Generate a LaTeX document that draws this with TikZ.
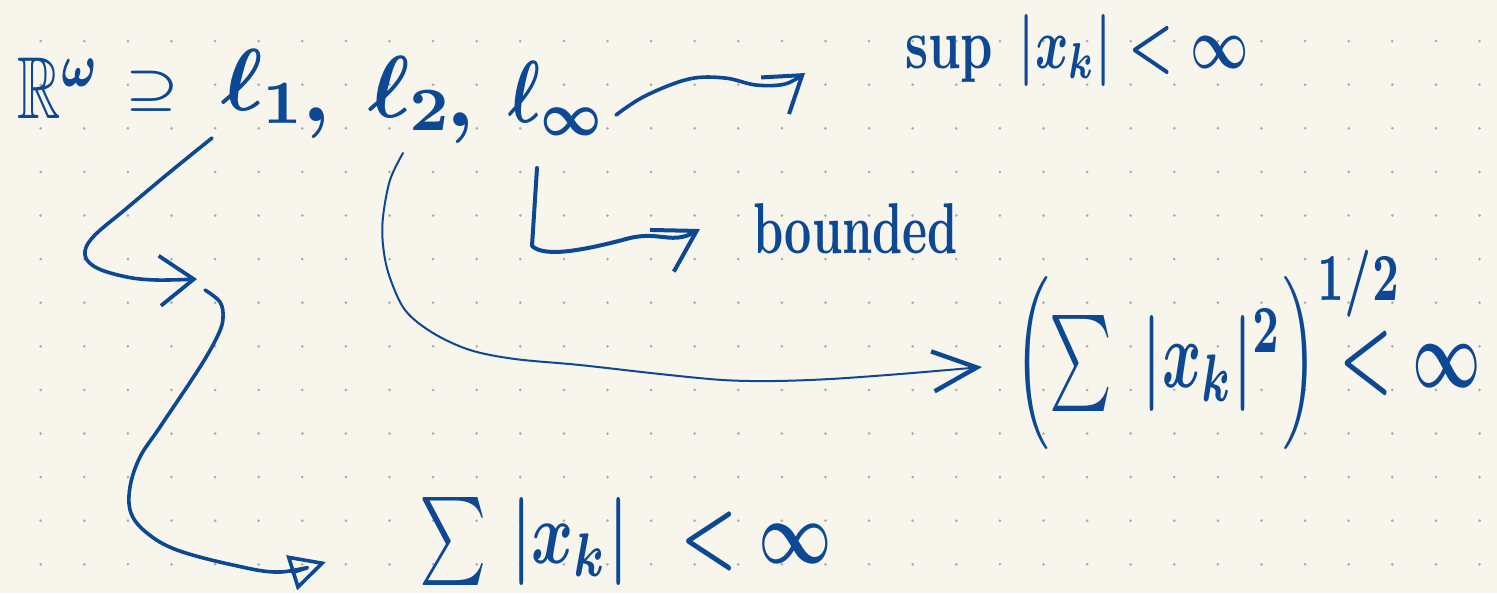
\documentclass[tikz,border=0pt]{standalone}
\usepackage{amssymb}
\usepackage{graphicx}
\usetikzlibrary{arrows.meta}
\definecolor{ink}{RGB}{12,72,148}
\definecolor{paper}{RGB}{248,246,236}
\definecolor{dotc}{RGB}{176,174,166}
\tikzset{
  hw/.style={text=ink, inner sep=0pt, outer sep=0pt},
  pen/.style={draw=ink, line width=0.9pt, line cap=round, line join=round},
  thinpen/.style={draw=ink, line width=0.5pt, line cap=round, line join=round},
}
\begin{document}
\begin{tikzpicture}[x=0.25pt, y=-0.25pt]
\fill[paper] (0,0) rectangle (1497,593);
\useasboundingbox (0,0) rectangle (1497,593);
\foreach \i in {0,...,33}{\foreach \j in {0,...,12}{\fill[dotc] (40.7+43.6*\i,41.1+43.6*\j) circle[radius=1.5];}}

% top row
\node[hw, anchor=base west] (R) at (18,118) {\scalebox{1.5}[2.2]{\boldmath$\mathbb{R}^{\omega}$}};
\node[hw] (sset) at (152,91) {\scalebox{1.5}[1.125]{\boldmath$\supseteq$}};
\node[hw, anchor=base west] (l1) at (221,110) {\scalebox{2.2}{\boldmath$\ell_1$}};
\node[hw, anchor=base west] (c1) at (302,121) {\scalebox{2.2}{\bfseries ,}};
\node[hw, anchor=base west] (l2) at (368,117) {\scalebox{2.2}{\boldmath$\ell_2$}};
\node[hw, anchor=base west] (c2) at (446,126) {\scalebox{2.2}{\bfseries ,}};
\node[hw, anchor=base west] (linf) at (508,122) {\scalebox{1.7}[2.2]{\boldmath$\ell_\infty$}};

% targets
\node[hw, anchor=base west] (supn) at (905,68) {\scalebox{1.27}[1.8]{\boldmath$\sup\;|x_k| < \infty$}};
\node[hw, anchor=base west] (bd) at (753,253) {\scalebox{1.185}[1.8]{\bfseries bounded}};
\node[hw, anchor=base west] (ltwo) at (1014,387) {\scalebox{1.49}[2.4]{\boldmath$\Bigl(\sum\;|x_k|^{2}\Bigr)^{\rlap{$\scriptstyle 1/2$}}< \infty$}};
\node[hw, anchor=base west] (lone) at (419,563) {\scalebox{1.6}[2.2]{\boldmath$\sum\,|x_k|\enspace<\infty$}};

% arrow end points
\coordinate (a1s) at (616,115);
\coordinate (a1e) at (805,73);
\coordinate (a2s) at (537,168);
\coordinate (a2c) at (532,246);
\coordinate (a2e) at (700,229);
\coordinate (a3s) at (403,153);
\coordinate (a3e) at (982,367);
\coordinate (a4s) at (212,138);
\coordinate (a4e) at (197,279);
\coordinate (a5s) at (205,290);
\coordinate (a5e) at (326,562);

% l_inf -> sup
\draw[pen, -{Straight Barb[length=8.5pt, width=11.5pt, line width=1pt]}]
  plot[smooth, tension=0.6] coordinates {(a1s) (645,96) (689,79) (725,78) (756,85) (785,84) (a1e)};
% l_inf -> bounded
\draw[pen, line width=1pt, -{Straight Barb[length=10pt, width=12pt, line width=1pt]}]
  (a2s) -- (a2c) .. controls (545,258) and (585,250) .. (630,238) .. controls (660,231) and (672,245) .. (a2e);
% l_2 -> sum squares
\draw[thinpen, -{Straight Barb[length=11pt, width=10pt, line width=1.1pt]}]
  plot[smooth, tension=0.55] coordinates {(a3s) (390,180) (383,217) (383,245) (389,275) (405,310) (433,333) (470,350) (515,359) (580,365) (660,374) (723,380) (773,381) (830,379) (900,374) (a3e)};
% l_1 -> mid
\draw[pen, -{Straight Barb[length=8.5pt, width=12.5pt, line width=0.95pt]}]
  plot[smooth, tension=0.6] coordinates {(a4s) (170,172) (127,208) (93,237) (85,255) (97,268) (127,277) (157,280) (a4e)};
% mid -> sum
\draw[pen, -{Triangle[open, length=9pt, width=9pt, line width=0.9pt]}]
  plot[smooth, tension=0.6] coordinates {(a5s) (220,302) (223,318) (218,335) (200,367) (160,427) (140,457) (130,487) (131,513) (147,533) (177,550) (233,565) (280,572) (a5e)};
\end{tikzpicture}
\end{document}
